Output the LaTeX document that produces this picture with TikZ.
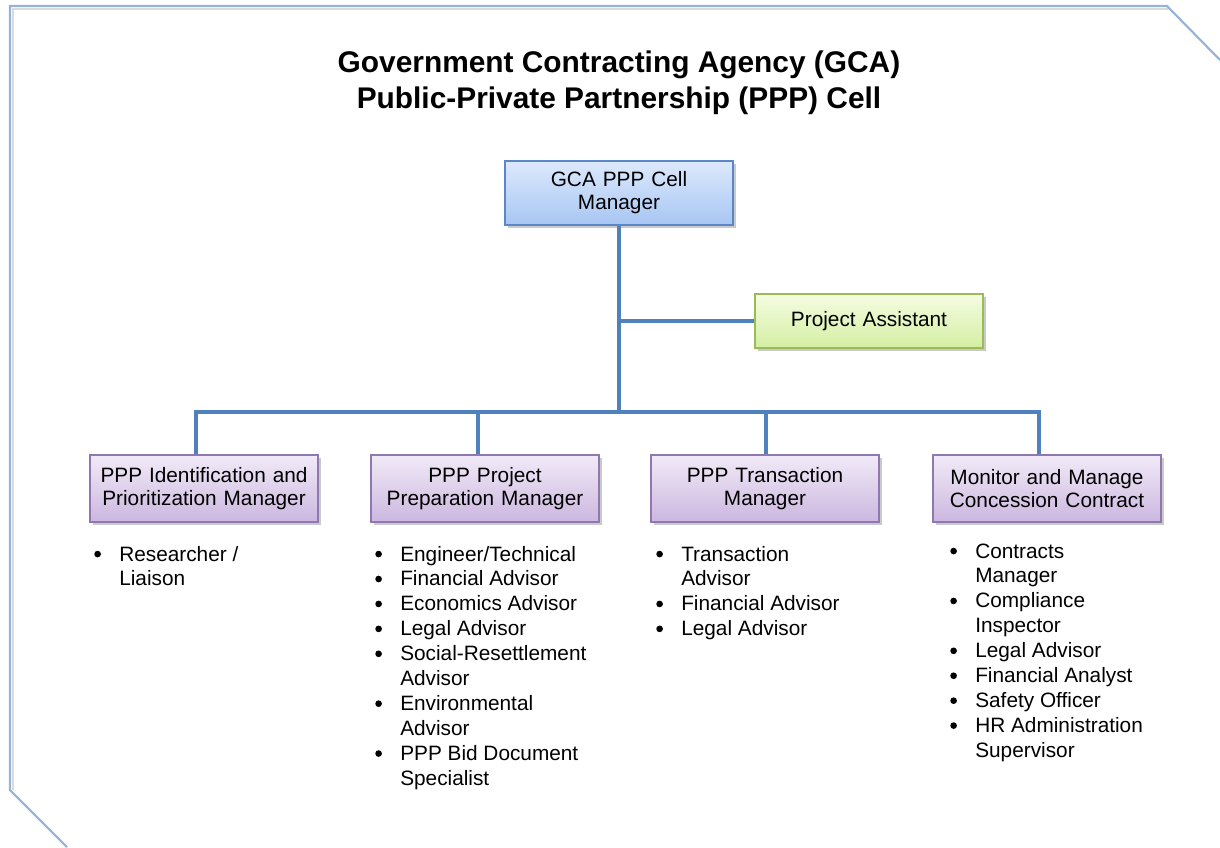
\documentclass[tikz,border=0pt]{standalone}
\usepackage{fontspec}
\setmainfont{Liberation Sans}
\usetikzlibrary{shadows}
\definecolor{frameblue}{HTML}{95B3D7}
\definecolor{framegray}{HTML}{DADADA}
\definecolor{connblue}{HTML}{4F81BD}
\definecolor{mgrtop}{HTML}{DDE9FC}
\definecolor{mgrbot}{HTML}{A7C6F3}
\definecolor{mgrline}{HTML}{5B87C8}
\definecolor{asttop}{HTML}{F5FCE2}
\definecolor{astbot}{HTML}{D3EFA2}
\definecolor{astline}{HTML}{9BBB59}
\definecolor{purtop}{HTML}{F1EAF7}
\definecolor{purbot}{HTML}{CCB7E0}
\definecolor{purline}{HTML}{8F78B0}
% round list marker drawn as a filled dot
\newcommand{\listdot}{\tikz[baseline=0pt]\fill[black] (2.5pt,5.2pt) circle[radius=2.5pt];}
% one bulleted entry; continuation lines hang under the text
\newcommand{\bitem}{\par\noindent\hangindent=18.75pt\hangafter=1%
  \makebox[18.75pt][l]{\listdot}}
\newcommand{\stafflist}[1]{\parbox[t]{170pt}{\parindent=0pt\rightskip=0pt plus 1fil\relax #1}}
\begin{document}
\begin{tikzpicture}[x=0.75pt,y=-0.75pt,
  boxtext/.style={font=\fontsize{15.6}{17.25}\selectfont, align=center, inner sep=0pt,
    minimum width=171pt, text width=165pt,
    drop shadow={shadow xshift=2.2pt, shadow yshift=-2.2pt, fill=black!35, opacity=0.6}},
  mgrbox/.style={boxtext, draw=mgrline, line width=0.9pt, top color=mgrtop, bottom color=mgrbot, minimum height=48pt},
  astbox/.style={boxtext, draw=astline, line width=0.9pt, top color=asttop, bottom color=astbot, minimum height=40.5pt},
  rolebox/.style={boxtext, draw=purline, line width=0.9pt, top color=purtop, bottom color=purbot, minimum height=50.25pt},
  staff/.style={anchor=base west, inner sep=0pt, font=\fontsize{15.6}{18.7}\selectfont},
  conn/.style={draw=connblue, line width=2.3pt},
  titletext/.style={font=\bfseries\fontsize{22.4}{27}\selectfont, align=center, inner sep=0pt}]
\useasboundingbox (0,0) rectangle (1220,847);

% page frame with clipped corners
\draw[framegray, line width=1.6pt] (13,790) -- (13,9) -- (1168,9);
\draw[frameblue, line width=1.6pt] (67,847) -- (10,790) -- (10,6) -- (1167,6) -- (1220,60);

% heading
\node[titletext] (title) at (619,83) {Government Contracting Agency (GCA)\\Public-Private Partnership (PPP) Cell};

% boxes
\node[mgrbox] (mgr) at (619,193) {GCA PPP Cell\\Manager};
\node[astbox] (ast) at (869,321) {Project Assistant};
\node[rolebox] (p1) at (204,488.5) {PPP Identification and\\Prioritization Manager};
\node[rolebox] (p2) at (485,488.5) {PPP Project\\Preparation Manager};
\node[rolebox] (p3) at (765,488.5) {PPP Transaction\\Manager};
\node[rolebox] (p4) at (1047,488.5) {Monitor and Manage\\Concession Contract};

% connectors
\coordinate (b1) at (196,412);
\coordinate (b2) at (478,412);
\coordinate (b3) at (766,412);
\coordinate (b4) at (1039,412);
\draw[conn] (mgr.south) -- (mgr.south |- b1);
\draw[conn] (mgr.south |- ast.west) -- (ast.west);
\draw[conn, line cap=rect] (b1) -- (b4);
\draw[conn] (b1) -- (b1 |- p1.north);
\draw[conn] (b2) -- (b2 |- p2.north);
\draw[conn] (b3) -- (b3 |- p3.north);
\draw[conn] (b4) -- (b4 |- p4.north);

% staff lists
\node[staff] (s1) at (94,561) {\stafflist{\bitem Researcher /\newline Liaison}};
\node[staff] (s2) at (375,561) {\stafflist{\bitem Engineer/Technical
  \bitem Financial Advisor
  \bitem Economics Advisor
  \bitem Legal Advisor
  \bitem Social-Resettlement\newline Advisor
  \bitem Environmental\newline Advisor
  \bitem PPP Bid Document\newline Specialist}};
\node[staff] (s3) at (656,561) {\stafflist{\bitem Transaction\newline Advisor
  \bitem Financial Advisor
  \bitem Legal Advisor}};
\node[staff] (s4) at (950,558) {\stafflist{\bitem Contracts\newline Manager
  \bitem Compliance\newline Inspector
  \bitem Legal Advisor
  \bitem Financial Analyst
  \bitem Safety Officer
  \bitem HR Administration\newline Supervisor}};
\end{tikzpicture}
\end{document}
